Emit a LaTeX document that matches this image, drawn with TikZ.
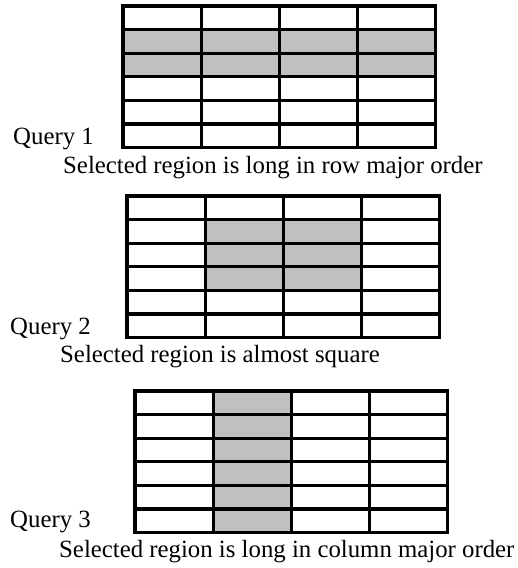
\documentclass[tikz,border=0pt]{standalone}
\usepackage{fontspec}
\setmainfont{Liberation Serif}
\usepackage{tikz}
\usepackage{xcolor}
\definecolor{g1}{HTML}{C0C0C0}
\tikzstyle{cell line}=[line width=3.2pt,black]
\tikzstyle{selected}=[fill=g1]
\tikzstyle{label text}=[inner sep=0pt,anchor=base west,font=\fontsize{24.8}{30}\selectfont]
\newcommand{\querygrid}[3]
{  % #1 = left , #2 = top , #3 = selected cells
  \begin{scope}[shift={(#1,#2)},xscale=78.2,yscale=23.6]
  \fill[selected] #3;
  \foreach \c in {1,2,3} \draw[cell line] (\c,0) -- (\c,6);
  \foreach \r in {1,...,5} \draw[cell line] (0,\r) -- (4,\r);
  \draw[cell line] (0,0) rectangle (4,6);
  \end{scope}
}
\begin{document}
\begin{tikzpicture}[x=1pt,y=-1pt]
  \useasboundingbox (0,0) rectangle (518,568);
  \querygrid{123}{6}{(0,1) rectangle (4,3)}   % rows
  \querygrid{127}{196}{(1,1) rectangle (3,4)} % block
  \querygrid{135}{391}{(1,0) rectangle (2,6)} % column
  \node[label text] (q1) at (13,144) {Query 1};
  \node[label text] (c1) at (63,173) {Selected region is long in row major order};
  \node[label text] (q2) at (10,334) {Query 2};
  \node[label text] (c2) at (60,362) {Selected region is almost square};
  \node[label text] (q3) at (10,527) {Query 3};
  \node[label text] (c3) at (59,557) {Selected region is long in column major order};
\end{tikzpicture}
\end{document}
